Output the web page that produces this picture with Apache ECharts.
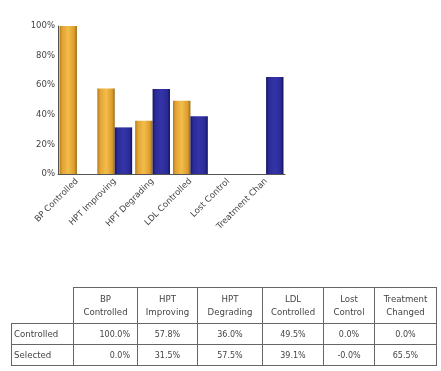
<!DOCTYPE html>
<html><head><meta charset="utf-8">
<script src="https://cdn.jsdelivr.net/npm/echarts@6/dist/echarts.min.js"></script>
<style>
html,body{margin:0;padding:0;background:#fff;}
#c{position:absolute;left:0;top:0;width:441px;height:371px;}
#t{position:absolute;left:11px;top:287px;border-collapse:collapse;font-family:"DejaVu Sans",sans-serif;font-size:8px;color:#444;table-layout:fixed;}
#t td{border:1px solid #666;padding:0 2px;overflow:hidden;white-space:nowrap;}
#t td.e{border:none;}
#t td.h{text-align:center;line-height:13px;height:35px;font-size:8.6px;}
#t td.v{text-align:center;height:20px;}
#t td.v0{text-align:right;padding-right:7px;height:20px;}
#t td.l{text-align:left;height:20px;font-size:8.6px;}
</style></head>
<body><div id="c"></div><table id="t"></table>
<script>
var categories = ["BP Controlled","HPT Improving","HPT Degrading","LDL Controlled","Lost Control","Treatment Chan"];
var headerLabels = [["BP","Controlled"],["HPT","Improving"],["HPT","Degrading"],["LDL","Controlled"],["Lost","Control"],["Treatment","Changed"]];
var seriesNames = ["Controlled","Selected"];
var controlled = [100.0, 57.8, 36.0, 49.5, 0.0, 0.0];
var selected = [0.0, 31.5, 57.5, 39.1, -0.0, 65.5];
var yTicks = [0,20,40,60,80,100];

var orange = new echarts.graphic.LinearGradient(0,0,1,0,[
  {offset:0,color:'#b07a18'},{offset:0.15,color:'#e3a232'},{offset:0.5,color:'#f2bd4c'},{offset:0.85,color:'#dc9c2c'},{offset:1,color:'#9a6a14'}]);
var blue = new echarts.graphic.LinearGradient(0,0,1,0,[
  {offset:0,color:'#14145e'},{offset:0.15,color:'#2a2a98'},{offset:0.5,color:'#3434a8'},{offset:0.85,color:'#2a2a96'},{offset:1,color:'#12125a'}]);

var chart = echarts.init(document.getElementById('c'));
chart.setOption({
  animation:false,
  backgroundColor:'#fff',
  grid:{left:58,top:26,right:156,bottom:197,containLabel:false},
  xAxis:{type:'category',data:categories,
    axisLine:{lineStyle:{color:'#555'}},axisTick:{show:false},
    axisLabel:{rotate:45,interval:0,fontSize:8.5,color:'#444',fontFamily:'DejaVu Sans',margin:6}},
  yAxis:{type:'value',min:0,max:100,interval:20,
    axisLine:{show:true,lineStyle:{color:'#555'}},axisTick:{show:false},splitLine:{show:false},
    axisLabel:{formatter:function(v){return v+'%';},fontSize:8.5,color:'#444',fontFamily:'DejaVu Sans',margin:3}},
  series:[
    {name:seriesNames[0],type:'bar',data:controlled,barGap:'0%',barCategoryGap:'8%',itemStyle:{color:orange}},
    {name:seriesNames[1],type:'bar',data:selected,itemStyle:{color:blue}}
  ]
});

function fmt(v){ return (Object.is(v,-0)?'-':'') + v.toFixed(1) + '%'; }
var widths = [62,64,60,65,61,51,62];
var t = document.getElementById('t');
var html = '<colgroup>' + widths.map(function(w){return '<col style="width:'+w+'px">';}).join('') + '</colgroup>';
html += '<tr><td class="e"></td>' + headerLabels.map(function(h){return '<td class="h">'+h[0]+'<br>'+h[1]+'</td>';}).join('') + '</tr>';
[controlled, selected].forEach(function(arr,i){
  html += '<tr><td class="l">'+seriesNames[i]+'</td>' + arr.map(function(v,j){return '<td class="'+(j===0?'v0':'v')+'">'+fmt(v)+'</td>';}).join('') + '</tr>';
});
t.innerHTML = html;
</script></body></html>
